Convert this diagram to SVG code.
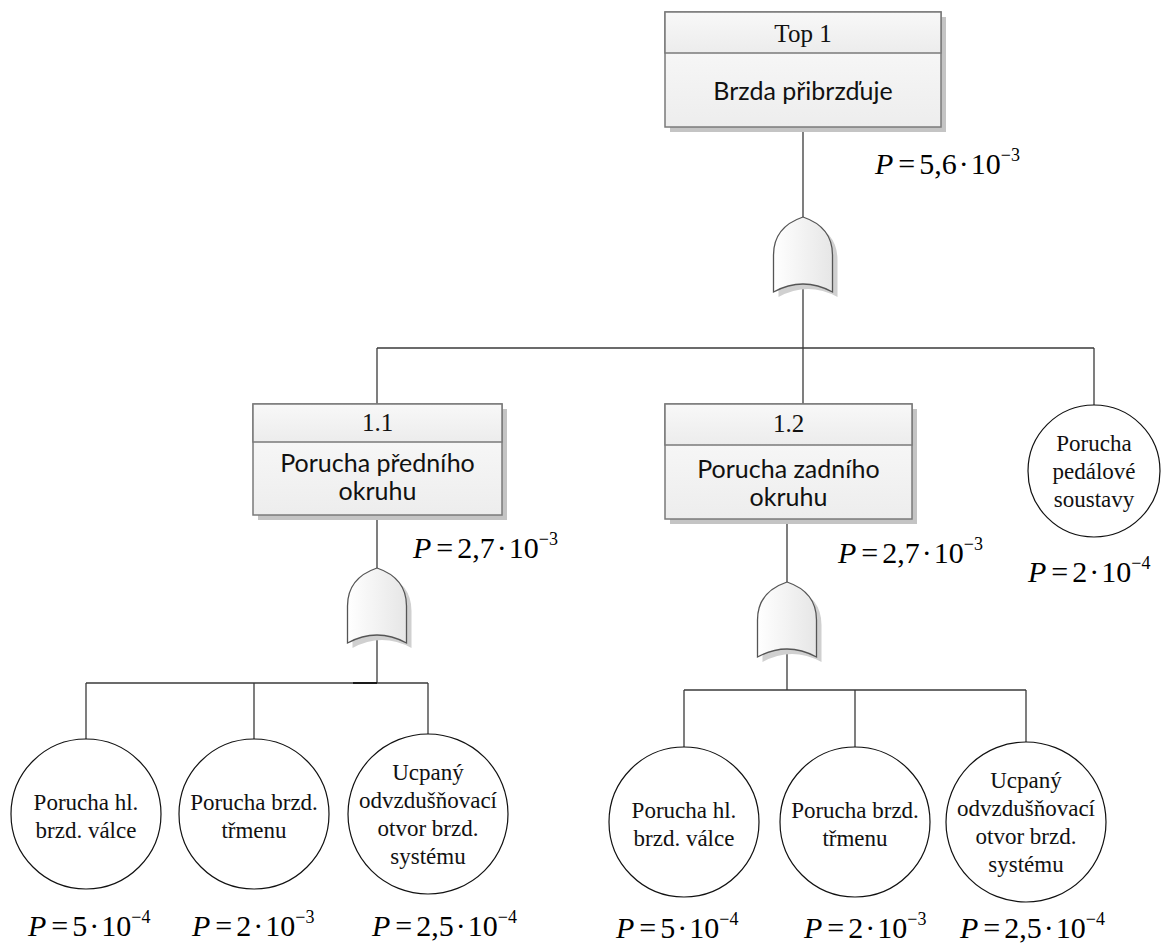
<svg xmlns="http://www.w3.org/2000/svg" width="1168" height="944" viewBox="0 0 1168 944">
  <style>
    .box { stroke: #7a7a7a; stroke-width: 1.5; }
    .hdr { fill: url(#hdrFill); }
    .body { fill: url(#bodyFill); }
    .shadow { fill: #c4c4c4; }
    .gate { fill: url(#gateFill); stroke: #555; stroke-width: 1.3; }
    .gshadow { fill: #d0d0d0; }
    .ev { fill: #fff; stroke: #111; stroke-width: 1.2; }
    .wire { stroke: #3a3a3a; stroke-width: 1.3; fill: none; }
    .id { font-family: "Liberation Serif", "Times New Roman", serif; font-size: 25px; fill: #111; text-anchor: middle; }
    .desc { font-family: Lato, "Open Sans", sans-serif; font-size: 25px; fill: #111; text-anchor: middle; }
    .ct { font-family: "Liberation Serif", "Times New Roman", serif; font-size: 23px; fill: #111; text-anchor: middle; }
    .prob { font-family: "Liberation Serif", "Times New Roman", serif; font-size: 30px; fill: #000; }
    .prob .v { font-style: italic; }
    .prob .sup { font-size: 18px; }
  </style>
  <defs>
    <linearGradient id="hdrFill" x1="0" y1="0" x2="0" y2="1">
      <stop offset="0" stop-color="#f8f8f8"/>
      <stop offset="1" stop-color="#ececec"/>
    </linearGradient>
    <linearGradient id="bodyFill" x1="0" y1="0" x2="0" y2="1">
      <stop offset="0" stop-color="#fbfbfb"/>
      <stop offset="1" stop-color="#ededed"/>
    </linearGradient>
    <linearGradient id="gateFill" x1="0" y1="0" x2="1" y2="0">
      <stop offset="0" stop-color="#ffffff"/>
      <stop offset="1" stop-color="#e6e6e6"/>
    </linearGradient>
    <!-- OR gate outline, origin at the pointed tip -->
    <path id="orGate" d="M -29.5 75 L -29.5 38 Q -29.5 10 0 0 Q 29.5 10 29.5 38 L 29.5 75 Q 0 59 -29.5 75 Z"/>
  </defs>

  <rect width="1168" height="944" fill="#fff"/>

  <!-- connectors -->
  <g id="connectors" class="wire">
    <line x1="803" y1="127" x2="803" y2="217"/>
    <line x1="803" y1="284" x2="803" y2="348"/>
    <line x1="377" y1="348" x2="1094" y2="348"/>
    <line x1="377" y1="348" x2="377" y2="404"/>
    <line x1="803" y1="348" x2="803" y2="404"/>
    <line x1="1094" y1="348" x2="1094" y2="405"/>

    <line x1="377" y1="515" x2="377" y2="568"/>
    <line x1="377" y1="635" x2="377" y2="683"/>
    <line x1="86" y1="683" x2="428" y2="683"/>
    <line x1="353" y1="683" x2="377" y2="683" stroke="#111" stroke-width="1.8"/>
    <line x1="86" y1="683" x2="86" y2="739"/>
    <line x1="254" y1="683" x2="254" y2="739"/>
    <line x1="428" y1="683" x2="428" y2="734"/>

    <line x1="787" y1="519" x2="787" y2="582"/>
    <line x1="787" y1="649" x2="787" y2="690"/>
    <line x1="684" y1="690" x2="1026" y2="690"/>
    <line x1="684" y1="690" x2="684" y2="747"/>
    <line x1="855" y1="690" x2="855" y2="747"/>
    <line x1="1026" y1="690" x2="1026" y2="742"/>
  </g>

  <!-- top event -->
  <g id="top1">
    <rect class="shadow" x="670" y="17" width="276" height="115"/>
    <rect class="box body" x="665" y="12" width="276" height="115"/>
    <rect class="box hdr" x="665" y="12" width="276" height="41"/>
    <text class="id" x="803" y="42">Top 1</text>
    <text class="desc" x="803" y="100" font-size="26">Brzda přibrzďuje</text>
    <text class="prob" x="875" y="174"><tspan class="v">P</tspan><tspan dx="5">=</tspan><tspan dx="4">5,6</tspan><tspan dx="2">·</tspan><tspan dx="2">10</tspan><tspan class="sup" dy="-13">−3</tspan></text>
  </g>

  <g id="gate-top">
    <use href="#orGate" class="gshadow" transform="translate(808 222)"/>
    <use href="#orGate" class="gate" transform="translate(803 217)"/>
  </g>

  <!-- intermediate event 1.1 -->
  <g id="ev11">
    <rect class="shadow" x="258" y="409" width="249" height="111"/>
    <rect class="box body" x="253" y="404" width="249" height="111"/>
    <rect class="box hdr" x="253" y="404" width="249" height="38"/>
    <text class="id" x="377.5" y="431">1.1</text>
    <text class="desc" x="377.5" y="472">Porucha předního</text>
    <text class="desc" x="377.5" y="500">okruhu</text>
    <text class="prob" x="413" y="558"><tspan class="v">P</tspan><tspan dx="5">=</tspan><tspan dx="4">2,7</tspan><tspan dx="2">·</tspan><tspan dx="2">10</tspan><tspan class="sup" dy="-13">−3</tspan></text>
  </g>

  <g id="gate-11">
    <use href="#orGate" class="gshadow" transform="translate(382 573)"/>
    <use href="#orGate" class="gate" transform="translate(377 568)"/>
  </g>

  <!-- intermediate event 1.2 -->
  <g id="ev12">
    <rect class="shadow" x="670" y="409" width="247" height="115"/>
    <rect class="box body" x="665" y="404" width="247" height="115"/>
    <rect class="box hdr" x="665" y="404" width="247" height="41"/>
    <text class="id" x="788.5" y="432">1.2</text>
    <text class="desc" x="788.5" y="478">Porucha zadního</text>
    <text class="desc" x="788.5" y="506">okruhu</text>
    <text class="prob" x="838" y="563"><tspan class="v">P</tspan><tspan dx="5">=</tspan><tspan dx="4">2,7</tspan><tspan dx="2">·</tspan><tspan dx="2">10</tspan><tspan class="sup" dy="-13">−3</tspan></text>
  </g>

  <g id="gate-12">
    <use href="#orGate" class="gshadow" transform="translate(792 587)"/>
    <use href="#orGate" class="gate" transform="translate(787 582)"/>
  </g>

  <!-- basic event: pedal assembly -->
  <g id="ev-pedal">
    <circle class="ev" cx="1094" cy="471" r="66"/>
    <text class="ct" x="1094" y="451">Porucha</text>
    <text class="ct" x="1094" y="479">pedálové</text>
    <text class="ct" x="1094" y="507">soustavy</text>
    <text class="prob" x="1028" y="582"><tspan class="v">P</tspan><tspan dx="5">=</tspan><tspan dx="4">2</tspan><tspan dx="2">·</tspan><tspan dx="2">10</tspan><tspan class="sup" dy="-13">−4</tspan></text>
  </g>

  <!-- basic events under 1.1 -->
  <g id="ev-111">
    <circle class="ev" cx="86" cy="814" r="75"/>
    <text class="ct" x="86" y="810">Porucha hl.</text>
    <text class="ct" x="86" y="838">brzd. válce</text>
    <text class="prob" x="28" y="936"><tspan class="v">P</tspan><tspan dx="5">=</tspan><tspan dx="4">5</tspan><tspan dx="2">·</tspan><tspan dx="2">10</tspan><tspan class="sup" dy="-13">−4</tspan></text>
  </g>
  <g id="ev-112">
    <circle class="ev" cx="254" cy="814" r="75"/>
    <text class="ct" x="254" y="810">Porucha brzd.</text>
    <text class="ct" x="254" y="838">třmenu</text>
    <text class="prob" x="192" y="936"><tspan class="v">P</tspan><tspan dx="5">=</tspan><tspan dx="4">2</tspan><tspan dx="2">·</tspan><tspan dx="2">10</tspan><tspan class="sup" dy="-13">−3</tspan></text>
  </g>
  <g id="ev-113">
    <circle class="ev" cx="428" cy="814" r="80"/>
    <text class="ct" x="428" y="780">Ucpaný</text>
    <text class="ct" x="428" y="808">odvzdušňovací</text>
    <text class="ct" x="428" y="836">otvor brzd.</text>
    <text class="ct" x="428" y="864">systému</text>
    <text class="prob" x="372" y="936"><tspan class="v">P</tspan><tspan dx="5">=</tspan><tspan dx="4">2,5</tspan><tspan dx="2">·</tspan><tspan dx="2">10</tspan><tspan class="sup" dy="-13">−4</tspan></text>
  </g>

  <!-- basic events under 1.2 -->
  <g id="ev-121">
    <circle class="ev" cx="684" cy="822" r="75"/>
    <text class="ct" x="684" y="818">Porucha hl.</text>
    <text class="ct" x="684" y="846">brzd. válce</text>
    <text class="prob" x="616" y="938"><tspan class="v">P</tspan><tspan dx="5">=</tspan><tspan dx="4">5</tspan><tspan dx="2">·</tspan><tspan dx="2">10</tspan><tspan class="sup" dy="-13">−4</tspan></text>
  </g>
  <g id="ev-122">
    <circle class="ev" cx="855" cy="822" r="75"/>
    <text class="ct" x="855" y="818">Porucha brzd.</text>
    <text class="ct" x="855" y="846">třmenu</text>
    <text class="prob" x="804" y="938"><tspan class="v">P</tspan><tspan dx="5">=</tspan><tspan dx="4">2</tspan><tspan dx="2">·</tspan><tspan dx="2">10</tspan><tspan class="sup" dy="-13">−3</tspan></text>
  </g>
  <g id="ev-123">
    <circle class="ev" cx="1026" cy="822" r="80"/>
    <text class="ct" x="1026" y="788">Ucpaný</text>
    <text class="ct" x="1026" y="816">odvzdušňovací</text>
    <text class="ct" x="1026" y="844">otvor brzd.</text>
    <text class="ct" x="1026" y="872">systému</text>
    <text class="prob" x="960" y="938"><tspan class="v">P</tspan><tspan dx="5">=</tspan><tspan dx="4">2,5</tspan><tspan dx="2">·</tspan><tspan dx="2">10</tspan><tspan class="sup" dy="-13">−4</tspan></text>
  </g>
</svg>
